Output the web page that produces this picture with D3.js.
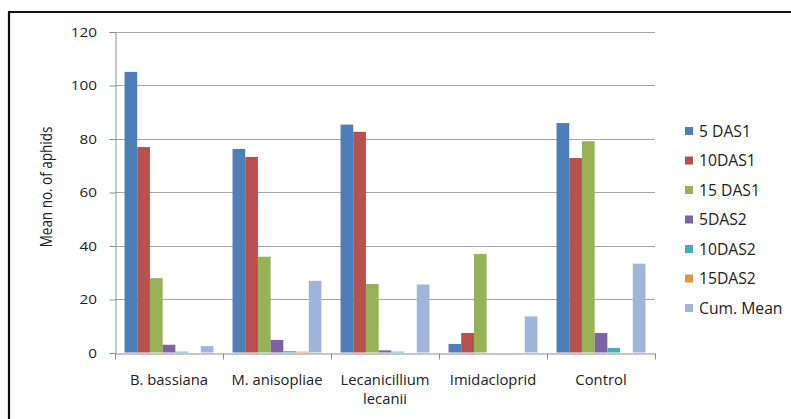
<!DOCTYPE html>
<html>
<head>
<meta charset="utf-8">
<script src="https://cdn.jsdelivr.net/npm/d3@7"></script>
<style>
  html, body { margin: 0; padding: 0; background: #fff; }
  svg { display: block; }
  text { font-family: "Open Sans", "Noto Sans", sans-serif; fill: #222; }
</style>
</head>
<body>
<svg id="chart" width="791" height="419"></svg>
<script>
// Treatments on the x axis
const categories = ["B. bassiana", "M. anisopliae", "Lecanicillium lecanii", "Imidacloprid", "Control"];
// Series shown in the legend
const seriesNames = ["5 DAS1", "10DAS1", "15 DAS1", "5DAS2", "10DAS2", "15DAS2", "Cum. Mean"];
const seriesColors = ["#4f7fb8", "#b8504d", "#97b256", "#7f62a1", "#4aa9c2", "#e5923e", "#9fb6da"];
// Mean number of aphids per treatment, one array per series
const das1_5  = [104.9, 76.1, 85.2, 3.2, 85.8];
const das1_10 = [76.8, 73.1, 82.5, 7.3, 72.7];
const das1_15 = [27.8, 35.8, 25.6, 36.8, 79.0];
const das2_5  = [2.9, 4.7, 0.8, 0, 7.3];
const das2_10 = [0.3, 0.5, 0.3, 0, 1.7];
const das2_15 = [0, 0.3, 0, 0, 0];
const cumMean = [2.4, 26.8, 25.4, 13.5, 33.2];
const seriesValues = [das1_5, das1_10, das1_15, das2_5, das2_10, das2_15, cumMean];
const yTicks = [0, 20, 40, 60, 80, 100, 120];

const svg = d3.select("#chart");
const plot = { left: 115, right: 655, top: 31.5, bottom: 352.5 };

// Each category: 7 bars plus a gap of 1.5 bar widths, split on both sides
const x0 = d3.scaleBand().domain(categories).range([plot.left, plot.right]).padding(0);
const x1 = d3.scaleBand().domain(seriesNames).range([0, x0.bandwidth()]).paddingInner(0).paddingOuter(0.75);
const y = d3.scaleLinear().domain([0, 120]).range([plot.bottom, plot.top]);

// Frame
svg.append("path")
  .attr("d", "M9,419 L9,12 L791,12")
  .attr("fill", "none").attr("stroke", "#111").attr("stroke-width", 2.2);

// Horizontal gridlines
svg.append("g").selectAll("line").data(yTicks.slice(1)).join("line")
  .attr("x1", plot.left).attr("x2", plot.right)
  .attr("y1", d => Math.round(y(d)) + 0.5).attr("y2", d => Math.round(y(d)) + 0.5)
  .attr("stroke", "#a6a6a6").attr("stroke-width", 1);

// Y axis line and ticks
const yAxis = svg.append("g")
  .attr("transform", `translate(${plot.left + 0.5},0.5)`)
  .call(d3.axisLeft(y).tickValues(yTicks).tickSize(6).tickFormat(""));
yAxis.select(".domain").attr("stroke", "#8c8c8c");
yAxis.selectAll(".tick line").attr("stroke", "#8c8c8c");

// Y tick labels (wide, short digits)
svg.append("g").selectAll("text").data(yTicks).join("text")
  .attr("transform", d => `translate(97,${y(d) + 5}) scale(1.27,1)`)
  .attr("text-anchor", "end")
  .attr("font-size", 12)
  .text(d => d);

// Bars
const groups = svg.append("g").selectAll("g").data(categories).join("g")
  .attr("transform", c => `translate(${x0(c)},0)`);
groups.selectAll("rect")
  .data((c, i) => seriesNames.map((s, j) => ({ s, j, v: seriesValues[j][i] })))
  .join("rect")
  .attr("x", d => x1(d.s))
  .attr("width", x1.bandwidth())
  .attr("y", d => y(d.v))
  .attr("height", d => y(0) - y(d.v))
  .attr("fill", d => seriesColors[d.j]);

// X axis
const xAxis = svg.append("g")
  .attr("transform", `translate(0,${Math.round(plot.bottom) + 0.5})`)
  .call(d3.axisBottom(x0).tickSize(0).tickFormat(""));
xAxis.select(".domain").attr("stroke", "#8c8c8c");
// Category separator ticks
const seps = d3.range(categories.length + 1).map(i => plot.left + i * x0.bandwidth());
xAxis.append("g").selectAll("line").data(seps).join("line")
  .attr("x1", d => Math.round(d) + 0.5).attr("x2", d => Math.round(d) + 0.5)
  .attr("y1", 0).attr("y2", 6).attr("stroke", "#8c8c8c");

// Category labels (wrapped where needed)
const catLabels = svg.append("g").selectAll("text").data(categories).join("text")
  .attr("x", c => x0(c) + x0.bandwidth() / 2)
  .attr("y", 385)
  .attr("text-anchor", "middle")
  .attr("font-size", 14.8);
catLabels.each(function (c) {
  const words = c === "Lecanicillium lecanii" ? ["Lecanicillium", "lecanii"] : [c];
  const t = d3.select(this);
  words.forEach((w, i) => {
    t.append("tspan").attr("x", x0(c) + x0.bandwidth() / 2).attr("dy", i === 0 ? 0 : 19).text(w);
  });
});

// Y axis title
svg.append("text")
  .attr("transform", "translate(52,187) rotate(-90) scale(1,1.25)")
  .attr("text-anchor", "middle")
  .attr("font-size", 13.5)
  .text("Mean no. of aphids");

// Legend
const legend = svg.append("g").selectAll("g").data(seriesNames).join("g")
  .attr("transform", (d, i) => `translate(685,${131 + i * 29.5})`);
legend.append("rect").attr("x", 0).attr("y", -4).attr("width", 8).attr("height", 8)
  .attr("fill", (d, i) => seriesColors[i]);
legend.append("text").attr("x", 14).attr("y", 5.5).attr("font-size", 15.7).text(d => d);
</script>
</body>
</html>
